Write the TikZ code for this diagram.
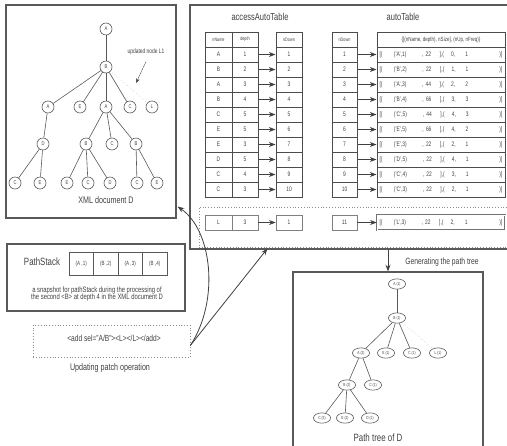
\documentclass[tikz,border=0pt]{standalone}
\usepackage{fontspec}
\setmainfont[FakeStretch=0.75]{Liberation Sans}
\usetikzlibrary{arrows.meta, shapes.geometric, calc}

\newcommand{\fsz}[1]{\fontsize{#1}{#1}\selectfont}
\newcommand{\autorow}[5]{[(\hspace{4mm}('#1',#2)\hspace{5.5mm}, #3\hspace{3mm}],(\hspace{2.5mm}#4,\hspace{3.5mm}#5\hfill)]}

\begin{document}
\begin{tikzpicture}[
    x=0.35mm, y=-0.35mm,
    font=\fsz{6},
    >=Stealth,
    every node/.style={text=black!75},
    frame/.style={rectangle, draw=black!65, line width=1.2pt, inner sep=0pt},
    dotbox/.style={rectangle, draw=black!45, dotted, thick, inner sep=0pt},
    xnode/.style={circle, draw=black!65, line width=0.6pt, minimum size=4.2mm, inner sep=0pt, font=\fsz{5.5}},
    pnode/.style={ellipse, draw=black!65, line width=0.6pt, minimum width=6mm, minimum height=3.6mm, inner sep=0pt, font=\fsz{4.3}},
    edge/.style={draw=black!65, line width=0.6pt},
    faint/.style={draw=black!35, dotted},
    cell/.style={rectangle, draw=black!70, line width=1pt, minimum height=5.25mm, inner sep=0pt, font=\fsz{6.5}},
    newcell/.style={rectangle, draw=black!50, line width=0.6pt, minimum height=5.25mm, inner sep=0pt, font=\fsz{6.5}},
    conn/.style={->, draw=black!75, line width=0.8pt},
    title/.style={font=\fsz{10}}
]

\useasboundingbox (0,0) rectangle (507,445);

% XML document D
\node[frame, minimum width=59.5mm, minimum height=74.55mm] (xmlbox) at (91,111.5) {};
\node[xnode] (r)  at (106,29)  {A};
\node[xnode] (b)  at (106,67)  {B};
\node[xnode] (a1) at (48,107)  {A};
\node[xnode] (e1) at (80,107)  {E};
\node[xnode] (a2) at (106,107) {A};
\node[xnode] (c1) at (130,107) {C};
\node[xnode] (l1) at (152,107) {L};
\node[xnode] (d1) at (43,144)  {D};
\node[xnode] (b1) at (86,144)  {B};
\node[xnode] (c2) at (112,144) {C};
\node[xnode] (b2) at (136,144) {B};
\node[xnode] (x1) at (15,183)  {C};
\node[xnode] (x2) at (40,183)  {E};
\node[xnode] (x3) at (67,183)  {E};
\node[xnode] (x4) at (88,183)  {C};
\node[xnode] (x5) at (110,183) {D};
\node[xnode] (x6) at (137,183) {C};
\node[xnode] (x7) at (157,183) {E};
\draw[edge] (r) -- (b);
\draw[edge] (b) -- (a1);
\draw[edge] (b) -- (e1);
\draw[edge] (b) -- (a2);
\draw[edge] (b) -- (c1);
\draw[faint] (b) -- (l1);
\draw[edge] (a1) -- (d1);
\draw[edge] (d1) -- (x1);
\draw[edge] (d1) -- (x2);
\draw[edge] (a2) -- (b1);
\draw[edge] (a2) -- (c2);
\draw[edge] (a2) -- (b2);
\draw[edge] (b1) -- (x3);
\draw[edge] (b1) -- (x4);
\draw[edge] (b1) -- (x5);
\draw[edge] (b2) -- (x6);
\draw[edge] (b2) -- (x7);
\node[font=\fsz{6.5}] (updnote) at (146,52) {updated node L1};
\coordinate (updtip) at (136,83);
\draw[->, black!70] (updnote.south) ++(0,3) -- (updtip);
\node[font=\fsz{9.5}] (xmllabel) at (106,200) {XML document D};

% accessAutoTable and autoTable
\node[frame, minimum width=115.5mm, minimum height=85.4mm] (tablebox) at (355,127) {};
\node[title] (acctitle) at (260,17) {accessAutoTable};
\node[title] (autotitle) at (403,17) {autoTable};

\node[cell, minimum width=9.45mm, font=\fsz{5}] (nmh) at (218.5,39.5) {nName};
\node[cell, minimum width=9.1mm, font=\fsz{5}]  (dph) at (245,39.5)   {depth};
\node[cell, minimum width=9.1mm, font=\fsz{5}]  (ndh) at (289,39.5)   {nDown};
\node[cell, minimum width=8.75mm, font=\fsz{5}] (nkh) at (344.5,39.5) {nDown};
\node[cell, minimum width=44.8mm, font=\fsz{6}] (ath) at (441,39.5)   {\{[(nName, depth), nSize], (nUp, nFreq)\}};

\foreach \n/\d/\s/\u/\f [count=\i] in {A/1/22/0/1, B/2/22/1/1, A/3/44/2/2, B/4/66/3/3, C/5/44/4/3,
    E/5/66/4/2, E/3/22/2/1, D/5/22/4/1, C/4/22/3/1, C/3/22/2/1}
{
    \node[cell, minimum width=9.45mm] (nm\i) at (218.5,{39.5+15*\i}) {\n};
    \node[cell, minimum width=9.1mm]  (dp\i) at (245,{39.5+15*\i})   {\d};
    \node[cell, minimum width=9.1mm]  (nd\i) at (289,{39.5+15*\i})   {\i};
    \node[cell, minimum width=8.75mm] (nk\i) at (344.5,{39.5+15*\i}) {\i};
    \node[cell, minimum width=44.8mm, text width=43mm] (at\i) at (441,{39.5+15*\i}) {\autorow{\n}{\d}{\s}{\u}{\f}};
    \draw[conn] (dp\i) -- (nd\i);
    \draw[conn] (nk\i) -- (at\i);
}

% new entry for L
\node[dotbox, minimum width=112.35mm, minimum height=14mm] (newrow) at (359.5,227) {};
\node[newcell, minimum width=9.45mm] (nmL) at (218.5,222.5) {L};
\node[newcell, minimum width=9.1mm]  (dpL) at (245,222.5)   {3};
\node[newcell, minimum width=9.1mm]  (ndL) at (289,222.5)   {1};
\node[newcell, minimum width=8.75mm] (nkL) at (344.5,222.5) {11};
\node[cell, draw=black!55, double, line width=0.5pt, minimum width=44.8mm, text width=43mm] (atL) at (441,222.5)
    {\autorow{L}{3}{22}{2}{1}};
\draw[conn] (dpL) -- (ndL);
\draw[conn] (nkL) -- (atL);

% PathStack
\node[frame, minimum width=62.3mm, minimum height=23.45mm] (stackbox) at (96,277.5) {};
\node[font=\fsz{10.5}] (stacklabel) at (42,262) {PathStack};
\foreach \t [count=\i] in {(A ,1), (B ,2), (A ,3), (B ,4)}
    \node[rectangle, draw=black!65, line width=0.7pt, minimum width=8.6mm, minimum height=8mm, inner sep=0pt, font=\fsz{6}]
        (st\i) at ({56.75+24.5*\i},263.5) {\t};
\node[font=\fsz{7.8}, align=center] (stackcap) at (97,294)
    {a snapshot for pathStack during the processing of\\the second <B> at depth 4 in the XML document D};

% Updating patch operation
\node[dotbox, minimum width=54.95mm, minimum height=11.2mm] (patchbox) at (111.5,341) {};
\node[font=\fsz{8.8}] (patchtext) at (114,338) {<add sel="A/B"><L></L></add>};
\node[font=\fsz{9.5}] (patchlabel) at (110,368) {Updating patch operation};

% connectors
\coordinate (src) at ($(patchbox.south east)+(0,-12)$);
\coordinate (xmltip) at ($(xmlbox.south east)+(1,-12)$);
\coordinate (tabtip) at ($(tablebox.south west)+(78,-1)$);
\draw[conn] (src) .. controls (220,300) and (212,230) .. (xmltip);
\draw[conn] (src) -- (tabtip);

% Path tree of D
\node[frame, minimum width=66.5mm, minimum height=65.8mm] (pathbox) at (388,366) {};
\draw[conn] (pathbox.north |- tablebox.south) -- (pathbox.north);
\node[font=\fsz{9}] (genlabel) at (442,262) {Generating the path tree};
\node[pnode] (pa)  at (397,284) {A (1)};
\node[pnode] (pb)  at (397,318) {B (1)};
\node[pnode] (pa2) at (361,353) {A (2)};
\node[pnode] (pe)  at (386,353) {E (1)};
\node[pnode] (pc)  at (412,353) {C (1)};
\node[pnode] (pl)  at (438,353) {L (1)};
\node[pnode] (pb2) at (347,385) {B (2)};
\node[pnode] (pc2) at (373,385) {C (1)};
\node[pnode] (pc3) at (322,418) {C (3)};
\node[pnode] (pe2) at (345,418) {E (2)};
\node[pnode] (pd)  at (370,418) {D (1)};
\draw[edge] (pa) -- (pb);
\draw[edge] (pb) -- (pa2);
\draw[edge] (pb) -- (pe);
\draw[edge] (pb) -- (pc);
\draw[faint] (pb) -- (pl);
\draw[edge] (pa2) -- (pb2);
\draw[edge] (pa2) -- (pc2);
\draw[edge] (pb2) -- (pc3);
\draw[edge] (pb2) -- (pe2);
\draw[edge] (pb2) -- (pd);
\node[font=\fsz{10.5}] (pathlabel) at (378,438) {Path tree of D};

\end{tikzpicture}
\end{document}
